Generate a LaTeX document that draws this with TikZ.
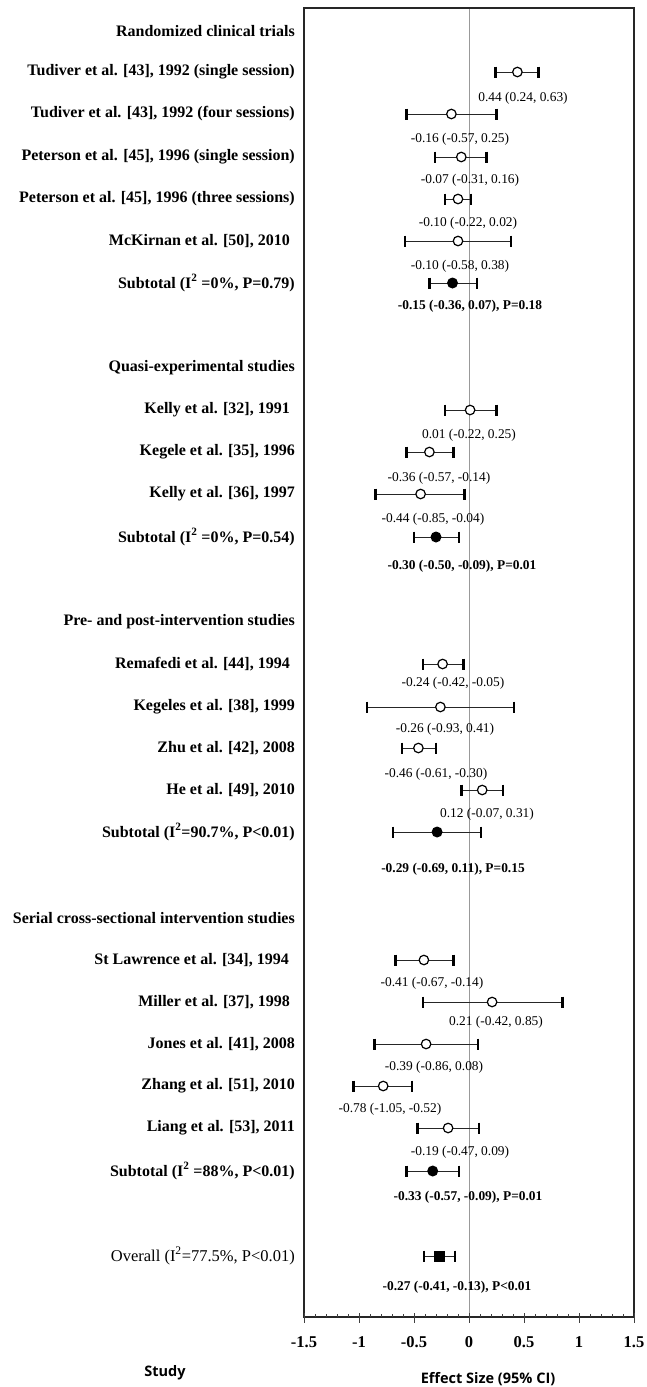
\documentclass[tikz,border=0pt]{standalone}
\usepackage{fontspec}
\setmainfont{Liberation Serif}
\newfontfamily\titlesans{Open Sans}
\begin{document}
\begin{tikzpicture}[x=1pt,y=-1pt,
  lab/.style={font=\bfseries\fontsize{16}{18}\selectfont, anchor=east, inner sep=0pt},
  ovlab/.style={font=\fontsize{16.5}{18}\selectfont, anchor=east, inner sep=0pt},
  val/.style={font=\fontsize{13.4}{15}\selectfont, inner sep=0pt},
  bval/.style={font=\bfseries\fontsize{13.4}{15}\selectfont, inner sep=0pt},
  ticklab/.style={font=\bfseries\fontsize{16.5}{18}\selectfont, inner sep=0pt},
  axtitle/.style={font=\titlesans\bfseries\fontsize{14.5}{17}\selectfont, inner sep=0pt},
  ciline/.style={draw=black!85, line width=0.8pt},
  capbar/.style={draw=black, line width=2.4pt},
  opendot/.style={circle, draw=black, fill=white, line width=1.2pt, minimum size=9.5pt, inner sep=0pt},
  filldot/.style={circle, fill=black, minimum size=11pt, inner sep=0pt},
  fillsq/.style={rectangle, fill=black, minimum size=11pt, inner sep=0pt},
  frame/.style={draw=black!85, line width=1.3pt},
  zeroline/.style={draw=black!40, line width=0.9pt},
  tickline/.style={draw=black!75, line width=0.7pt}
]
\useasboundingbox[fill=white] (0,0) rectangle (647,1387);

% plot frame and zero line
\coordinate (tl) at (304,8);
\coordinate (br) at (634,1317);
\coordinate (ztop) at (469,8);
\coordinate (zbot) at (469,1317);
\draw[zeroline] (ztop) -- (zbot);

\newcommand\fprow[6]{%
  \pgfmathsetmacro\xe{469+110*(#3)}%
  \pgfmathsetmacro\xl{469+110*(#4)}%
  \pgfmathsetmacro\xh{469+110*(#5)}%
  \coordinate (#1lo) at (\xl,#2);
  \coordinate (#1hi) at (\xh,#2);
  \draw[ciline] (#1lo) -- (#1hi);
  \draw[capbar] ([yshift=5.5pt]#1lo) -- ([yshift=-5.5pt]#1lo);
  \draw[capbar] ([yshift=5.5pt]#1hi) -- ([yshift=-5.5pt]#1hi);
  \node[#6] (#1m) at (\xe,#2) {};
}

% ---------- Randomized clinical trials
\node[lab] (h1) at (295,31) {Randomized clinical trials};
\node[lab] (l1) at (295,72) {Tudiver et al. [43], 1992 (single session)};
\node[lab] (l2) at (295,114) {Tudiver et al. [43], 1992 (four sessions)};
\node[lab] (l3) at (295,157) {Peterson et al. [45], 1996 (single session)};
\node[lab] (l4) at (295,199) {Peterson et al. [45], 1996 (three sessions)};
\node[lab] (l5) at (290,241) {McKirnan et al. [50], 2010};
\node[lab] (l6) at (295,283) {Subtotal (I\textsuperscript{2} =0\%, P=0.79)};

\fprow{r1}{72}{0.44}{0.24}{0.63}{opendot}
\fprow{r2}{114}{-0.16}{-0.57}{0.25}{opendot}
\fprow{r3}{157}{-0.07}{-0.31}{0.16}{opendot}
\fprow{r4}{199}{-0.10}{-0.22}{0.02}{opendot}
\fprow{r5}{241}{-0.10}{-0.58}{0.38}{opendot}
\fprow{r6}{283}{-0.15}{-0.36}{0.07}{filldot}

\node[val] (v1) at (523,98) {0.44 (0.24, 0.63)};
\node[val] (v2) at (460,139) {-0.16 (-0.57, 0.25)};
\node[val] (v3) at (470,180) {-0.07 (-0.31, 0.16)};
\node[val] (v4) at (468,223) {-0.10 (-0.22, 0.02)};
\node[val] (v5) at (460,266) {-0.10 (-0.58, 0.38)};
\node[bval] (v6) at (470,306) {-0.15 (-0.36, 0.07), P=0.18};

% ---------- Quasi-experimental studies
\node[lab] (h2) at (295,368) {Quasi-experimental studies};
\node[lab] (q1) at (290,410) {Kelly et al. [32], 1991};
\node[lab] (q2) at (295,452) {Kegele et al. [35], 1996};
\node[lab] (q3) at (295,494) {Kelly et al. [36], 1997};
\node[lab] (q4) at (295,537) {Subtotal (I\textsuperscript{2} =0\%, P=0.54)};

\fprow{s1}{410}{0.01}{-0.22}{0.25}{opendot}
\fprow{s2}{452}{-0.36}{-0.57}{-0.14}{opendot}
\fprow{s3}{494}{-0.44}{-0.85}{-0.04}{opendot}
\fprow{s4}{537}{-0.30}{-0.50}{-0.09}{filldot}

\node[val] (w1) at (469,435) {0.01 (-0.22, 0.25)};
\node[val] (w2) at (439,478) {-0.36 (-0.57, -0.14)};
\node[val] (w3) at (433,519) {-0.44 (-0.85, -0.04)};
\node[bval] (w4) at (462,566) {-0.30 (-0.50, -0.09), P=0.01};

% ---------- Pre- and post-intervention studies
\node[lab] (h3) at (295,622) {Pre- and post-intervention studies};
\node[lab] (p1) at (290,664) {Remafedi et al. [44], 1994};
\node[lab] (p2) at (295,707) {Kegeles et al. [38], 1999};
\node[lab] (p3) at (295,748) {Zhu et al. [42], 2008};
\node[lab] (p4) at (295,790) {He et al. [49], 2010};
\node[lab] (p5) at (295,832) {Subtotal (I\textsuperscript{2}=90.7\%, P<0.01)};

\fprow{t1}{664}{-0.24}{-0.42}{-0.05}{opendot}
\fprow{t2}{707}{-0.26}{-0.93}{0.41}{opendot}
\fprow{t3}{748}{-0.46}{-0.61}{-0.30}{opendot}
\fprow{t4}{790}{0.12}{-0.07}{0.31}{opendot}
\fprow{t5}{832}{-0.29}{-0.69}{0.11}{filldot}

\node[val] (u1) at (453,683) {-0.24 (-0.42, -0.05)};
\node[val] (u2) at (445,729) {-0.26 (-0.93, 0.41)};
\node[val] (u3) at (436,774) {-0.46 (-0.61, -0.30)};
\node[val] (u4) at (487,814) {0.12 (-0.07, 0.31)};
\node[bval] (u5) at (453,869) {-0.29 (-0.69, 0.11), P=0.15};

% ---------- Serial cross-sectional intervention studies
\node[lab] (h4) at (295,918) {Serial cross-sectional intervention studies};
\node[lab] (c1) at (289,960) {St Lawrence et al. [34], 1994};
\node[lab] (c2) at (290,1002) {Miller et al. [37], 1998};
\node[lab] (c3) at (295,1044) {Jones et al. [41], 2008};
\node[lab] (c4) at (295,1086) {Zhang et al. [51], 2010};
\node[lab] (c5) at (295,1128) {Liang et al. [53], 2011};
\node[lab] (c6) at (295,1171) {Subtotal (I\textsuperscript{2} =88\%, P<0.01)};

\fprow{k1}{960}{-0.41}{-0.67}{-0.14}{opendot}
\fprow{k2}{1002}{0.21}{-0.42}{0.85}{opendot}
\fprow{k3}{1044}{-0.39}{-0.86}{0.08}{opendot}
\fprow{k4}{1086}{-0.78}{-1.05}{-0.52}{opendot}
\fprow{k5}{1128}{-0.19}{-0.47}{0.09}{opendot}
\fprow{k6}{1171}{-0.33}{-0.57}{-0.09}{filldot}

\node[val] (m1) at (432,983) {-0.41 (-0.67, -0.14)};
\node[val] (m2) at (496,1022) {0.21 (-0.42, 0.85)};
\node[val] (m3) at (434,1067) {-0.39 (-0.86, 0.08)};
\node[val] (m4) at (390,1109) {-0.78 (-1.05, -0.52)};
\node[val] (m5) at (460,1152) {-0.19 (-0.47, 0.09)};
\node[bval] (m6) at (468,1197) {-0.33 (-0.57, -0.09), P=0.01};

% ---------- Overall
\node[ovlab] (o1) at (295,1256) {Overall (I\textsuperscript{2}=77.5\%, P<0.01)};
\fprow{ov}{1256}{-0.27}{-0.41}{-0.13}{fillsq}
\node[bval] (o2) at (457,1287) {-0.27 (-0.41, -0.13), P<0.01};

% frame
\draw[frame] (tl) rectangle (br);

% axis ticks
\foreach \i in {-15,...,15} {
  \draw[tickline] (469+11*\i,1317) -- ++(0,-3.5);
}
\foreach \v/\t in {-1.5/-1.5,-1/-1,-0.5/-0.5,0/0,0.5/0.5,1/1,1.5/1.5} {
  \draw[tickline] (469+110*\v,1313) -- (469+110*\v,1323);
  \node[ticklab] at (469+110*\v,1342) {\t};
}

% axis titles
\node[axtitle] (study) at (165,1373) {Study};
\node[axtitle] (effect) at (488,1379) {Effect Size (95\% CI)};
\end{tikzpicture}
\end{document}
